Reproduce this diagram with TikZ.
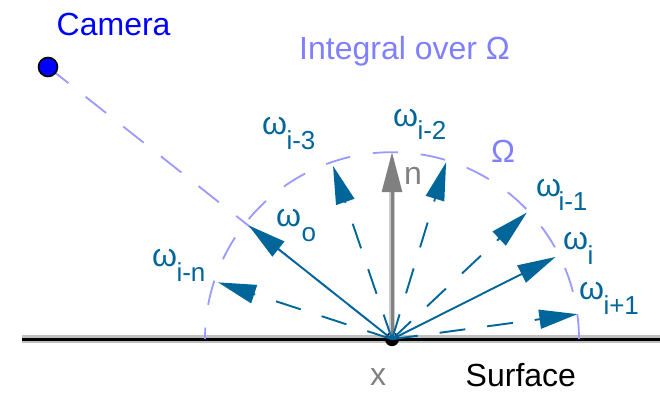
\documentclass[tikz,border=0pt]{standalone}
\usepackage{fontspec}
\setmainfont{Liberation Sans}
\usetikzlibrary{arrows.meta,calc}
\definecolor{tealA}{HTML}{006699}
\definecolor{lavL}{HTML}{9999FF}
\definecolor{lavT}{HTML}{8080FF}
\definecolor{camB}{HTML}{0000FF}
\definecolor{grayN}{HTML}{808080}
\tikzset{
  ray/.style={draw=tealA, line width=1.9pt, -{Triangle[length=38pt,width=19pt]}},
  dray/.style={ray, dash pattern=on 26pt off 22pt},
  lavdash/.style={draw=lavL, line width=1.8pt, dash pattern=on 25pt off 23pt},
  camdash/.style={draw=lavL, line width=1.8pt, dash pattern=on 26pt off 22pt},
  lbl/.style={inner sep=0pt, anchor=base west, font=\fontsize{32}{38}\selectfont},
  sublbl/.style={inner sep=0pt, anchor=base west, font=\fontsize{26}{30}\selectfont, text=tealA},
}
\begin{document}
\begin{tikzpicture}[x=1pt,y=1pt]
\useasboundingbox (0,0) rectangle (660,393);
% surface
\coordinate (sL) at (22,53.8);
\coordinate (sR) at (660,53.8);
\coordinate (O) at (392,53.8);
\draw[line width=8pt, black!25] (sL) -- (sR);
\draw[line width=3pt, black] (sL) -- (sR);
% hemisphere
\draw[lavdash] ([shift={(0:187)}]O) arc[start angle=0, end angle=180, radius=187];
% camera line
\coordinate (camc) at (48,326);
\draw[camdash] (camc) -- (O);
\node[circle, fill=camB, draw=black, line width=1.6pt, minimum size=19pt, inner sep=0pt] (cam) at (camc) {};
% point x
\fill[black] (O) circle[radius=7];
% tips
\coordinate (tIn) at ([shift={(161.9:183)}]O);
\coordinate (tO)  at ([shift={(141.56:183)}]O);
\coordinate (tI3) at ([shift={(108.8:183)}]O);
\coordinate (tN)  at ([shift={(90:187)}]O);
\coordinate (tNb) at ([shift={(90:150)}]O);
\coordinate (tI2) at ([shift={(73:185)}]O);
\coordinate (tI1) at ([shift={(43.2:185)}]O);
\coordinate (tI)  at ([shift={(26.7:183)}]O);
\coordinate (tIp) at ([shift={(7.7:187)}]O);
% normal
\draw[line width=6pt, black!20] (O) -- (tNb);
\draw[line width=3pt, grayN, -{Triangle[length=40pt,width=20pt]}] (O) -- (tN);
% rays
\draw[dray] (O) -- (tIn);
\draw[ray]  (O) -- (tO);
\draw[dray] (O) -- (tI3);
\draw[dray] (O) -- (tI2);
\draw[dray] (O) -- (tI1);
\draw[ray]  (O) -- (tI);
\draw[dray] (O) -- (tIp);
% texts
\node[lbl, text=camB] (camT) at (56.5,357) {Camera};
\node[lbl, text=lavT] (intT) at (299,333) {Integral over Ω};
\node[lbl, text=lavT] (omT) at (491,230) {Ω};
\node[lbl, text=grayN] (nT) at (404,208) {n};
\node[lbl, text=grayN] (xT) at (370,8) {x};
\node[lbl, text=black] (surfT) at (465.5,7) {Surface};
% omega labels
\node[lbl, text=tealA] (w3) at (262,258) {ω};
\node[sublbl] (s3) at (286.3,243) {i-3};
\node[lbl, text=tealA] (w2) at (393,266) {ω};
\node[sublbl] (s2) at (417.3,253) {i-2};
\node[lbl, text=tealA] (wo) at (276,166) {ω};
\node[sublbl] (so) at (301.5,151) {o};
\node[lbl, text=tealA] (wn) at (152,126) {ω};
\node[sublbl] (sn) at (176.3,111) {i-n};
\node[lbl, text=tealA] (w1) at (536,196) {ω};
\node[sublbl] (s1) at (558.3,182) {i-1};
\node[lbl, text=tealA] (wi) at (563,143) {ω};
\node[sublbl] (si) at (587.5,128) {i};
\node[lbl, text=tealA] (wp) at (579,93) {ω};
\node[sublbl] (sp) at (603.3,78) {i+1};
\end{tikzpicture}
\end{document}
